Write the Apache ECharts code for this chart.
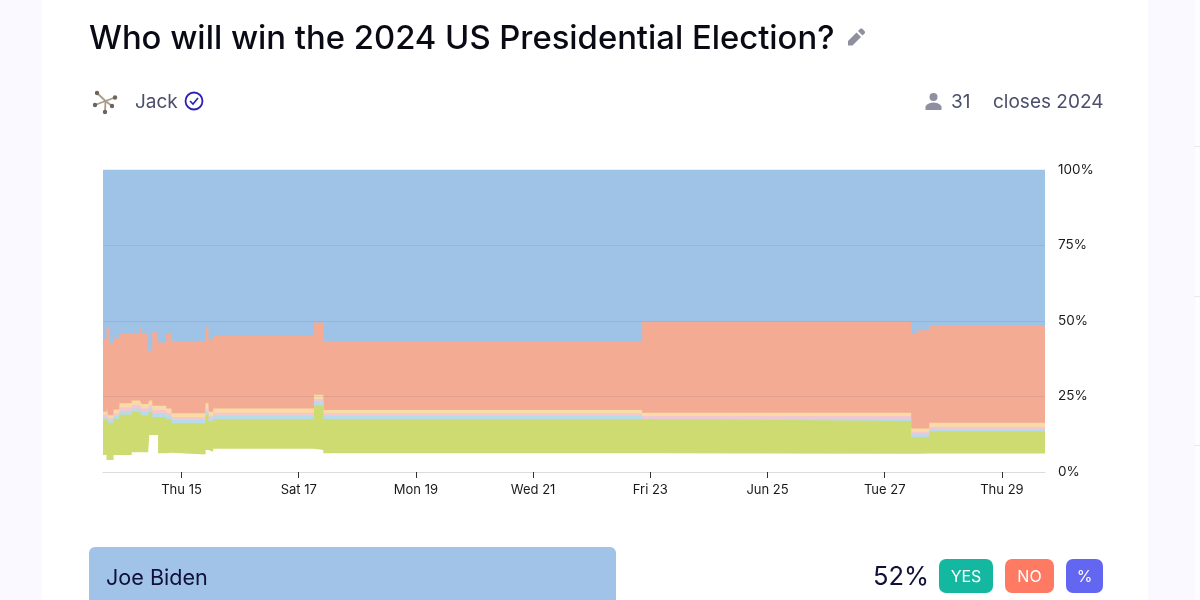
<!DOCTYPE html>
<html>
<head>
<meta charset="utf-8">
<style>html,body{margin:0;padding:0;background:#fff}#c{width:1200px;height:600px}</style>
<script src="https://cdn.jsdelivr.net/npm/echarts@6/dist/echarts.min.js"></script>
</head>
<body>
<div id="c"></div>
<script>
// x positions in days of June (steps start at each value)
const days = [13.66,13.72,13.75,13.78,13.84,13.94,14.15,14.29,14.32,14.43,14.45,14.50,14.60,14.74,14.83,15.41,15.46,15.54,17.26,17.42,22.86,27.45,27.55,27.76,29.68,29.735];
// Cumulative band tops, in percent
const blueTop   = [100,100,100,100,100,100,100,100,100,100,100,100,100,100,100,100,100,100,100,100,100,100,100,100,100,100];
const salmonTop = [43.6,47.5,47.5,42.6,44.2,45.8,45.8,48.6,45.6,40.1,40.1,46.2,42.8,45.6,43.3,48.0,43.6,45.0,49.4,43.3,49.6,45.8,46.9,48.4,48.0,48.0];
const yellowTop = [19.9,21.0,18.8,18.8,20.7,22.7,23.6,23.6,22.5,22.5,23.6,21.9,21.9,21.0,19.4,22.7,19.9,21.0,25.5,20.5,19.6,14.4,14.4,16.3,16.3,16.3];
const pinkTop   = [18.9,20.0,17.9,17.9,19.4,21.3,22.2,22.2,21.1,21.1,22.2,20.5,20.5,19.7,18.2,21.0,18.6,19.6,24.2,19.4,18.5,13.3,13.3,15.0,15.0,15.0];
const skyTop    = [18.1,19.2,17.1,17.1,18.5,20.2,21.0,21.0,20.0,20.0,21.0,19.5,19.5,18.7,17.2,20.0,17.7,18.6,23.2,18.5,17.6,12.5,12.5,14.2,14.2,14.2];
const greenTop  = [17.3,18.2,16.2,16.2,17.6,18.9,19.8,19.8,18.8,18.8,19.8,18.2,18.2,17.5,16.1,19.0,16.8,17.5,22.0,17.5,16.9,11.5,11.5,13.5,13.5,13.5];
const whiteTop  = [5.6,4.0,4.0,4.0,5.6,5.6,6.5,6.5,6.5,6.5,12.2,12.2,6.2,6.4,5.8,7.3,6.7,7.7,7.3,6.2,6.0,6.0,6.1,6.1,6.1,6.1];

const tickDays = [15,17,19,21,23,25,27,29];
const tickLabels = ['Thu 15','Sat 17','Mon 19','Wed 21','Fri 23','Jun 25','Tue 27','Thu 29'];

const titleText = 'Who will win the 2024 US Presidential Election?';
const creator = 'Jack';
const traders = '31';
const closes = 'closes 2024';
const answerName = 'Joe Biden';
const answerProb = '52%';

const F = 'Inter, "Noto Sans", sans-serif';

function band(name, tops, color, z) {
  return {
    name, type: 'line', step: 'end', showSymbol: false, silent: true, z,
    lineStyle: { width: 0 },
    areaStyle: { color, opacity: 1 },
    data: days.map((d, i) => [d, tops[i]])
  };
}
const series = [
  band('blue', blueTop, '#9fc3e7', 2),
  band('salmon', salmonTop, '#f4ab94', 3),
  band('yellow', yellowTop, '#f9dca5', 4),
  band('pink', pinkTop, '#f4c6cf', 5),
  band('sky', skyTop, '#b6dcea', 6),
  band('green', greenTop, '#cedb70', 7),
  band('white', whiteTop, '#ffffff', 8)
];

const t = (x, y, text, size, color, extra) => ({
  type: 'text', x, y, z: 10,
  style: Object.assign({ text, font: `${size}px ${F}`, fill: color, textVerticalAlign: 'middle' }, extra || {})
});
const btn = (x, w, color, text) => ([
  { type: 'rect', z: 5, shape: { x, y: 559, width: w, height: 34, r: 7 }, style: { fill: color } },
  t(x + w / 2, 577, text, 16, '#fff', { textAlign: 'center' })
]);
const avatarArms = [[105.5,101,97,93],[105.5,101,115,97.5],[105.5,101,95,105],[105.5,101,105,112],[105.5,101,112,106]];

const graphic = [
  // page panels
  { type: 'rect', z: -10, shape: { x: 0, y: 0, width: 1200, height: 600 }, style: { fill: '#f9f9ff' } },
  { type: 'rect', z: -9, shape: { x: 42, y: 0, width: 1106, height: 600 }, style: { fill: '#ffffff' } },
  { type: 'rect', z: -9, shape: { x: 1195, y: 0, width: 5, height: 600 }, style: { fill: '#fdfdff' } },
  { type: 'rect', z: -8, shape: { x: 1194, y: 146, width: 6, height: 1 }, style: { fill: '#e8e8ee' } },
  { type: 'rect', z: -8, shape: { x: 1194, y: 296, width: 6, height: 1 }, style: { fill: '#e8e8ee' } },
  { type: 'rect', z: -8, shape: { x: 1194, y: 445, width: 6, height: 1 }, style: { fill: '#e8e8ee' } },
  // header
  t(89, 39.5, titleText, 32.8, '#0a0a14', { font: `500 32.8px ${F}` }),
  { type: 'polygon', z: 10, shape: { points: [[848,41],[848,45.5],[852.5,45.5],[861,37],[856.5,32.5]] }, style: { fill: '#8f8f9e' } },
  { type: 'polygon', z: 10, shape: { points: [[858,31],[862.5,35.5],[865,33],[865,31.5],[862,28.5],[860.5,28.5]] }, style: { fill: '#8f8f9e' } },
  t(135, 102, creator, 19, '#4b4f6b'),
  t(951, 102, traders, 19, '#4b4f6b'),
  t(993, 102, closes, 19, '#4b4f6b'),
  ...avatarArms.map(a => ({ type: 'line', z: 10, shape: { x1: a[0], y1: a[1], x2: a[2], y2: a[3] }, style: { stroke: '#a89c8c', lineWidth: 1.8 } })),
  ...avatarArms.map(a => ({ type: 'circle', z: 10, shape: { cx: a[2], cy: a[3], r: 2.2 }, style: { fill: '#6e6459' } })),
  { type: 'circle', z: 10, shape: { cx: 194, cy: 101, r: 8.5 }, style: { fill: 'none', stroke: '#2c20b8', lineWidth: 1.8 } },
  { type: 'polyline', z: 10, shape: { points: [[190,101],[193,104],[198,98]] }, style: { fill: 'none', stroke: '#2c20b8', lineWidth: 1.6 } },
  { type: 'circle', z: 10, shape: { cx: 933.5, cy: 97, r: 4 }, style: { fill: '#8f8fa3' } },
  { type: 'polygon', z: 10, shape: { points: [[925.5,110],[925.5,106.5],[927,104.5],[930,103],[933.5,102.5],[937,103],[940,104.5],[941.5,106.5],[941.5,110]] }, style: { fill: '#8f8fa3' } },
  // answer row
  { type: 'rect', z: 5, shape: { x: 89, y: 547, width: 527, height: 70, r: [6, 6, 0, 0] }, style: { fill: '#a0c3e7' } },
  t(106, 578.5, answerName, 21.6, '#10103a'),
  t(873, 577.5, answerProb, 25.5, '#10103a'),
  ...btn(939, 54, '#14b8a0', 'YES'),
  ...btn(1005, 49, '#ff7a63', 'NO'),
  ...btn(1066, 37, '#6366f1', '%')
];

const chart = echarts.init(document.getElementById('c'), null, { renderer: 'canvas' });
chart.setOption({
  animation: false,
  backgroundColor: '#fff',
  grid: { left: 103, right: 155, top: 169.5, bottom: 128, containLabel: false },
  xAxis: {
    type: 'value', min: 13.66, max: 29.735, z: 9,
    splitLine: { show: false },
    axisLine: { show: true, onZero: false, lineStyle: { color: '#dcdcdc', width: 1 } },
    axisTick: { show: true, customValues: tickDays, length: 6, lineStyle: { color: '#333', width: 1 } },
    axisLabel: {
      show: true, customValues: tickDays, margin: 12, fontFamily: F, fontSize: 13, color: '#1a1a1a',
      hideOverlap: false,
      formatter: v => tickLabels[tickDays.indexOf(v)]
    }
  },
  yAxis: {
    type: 'value', position: 'right', min: 0, max: 100, interval: 25, z: 9,
    axisLine: { show: false }, axisTick: { show: false },
    axisLabel: { margin: 13, fontFamily: F, fontSize: 13.5, color: '#1a1a1a', formatter: v => v + '%' },
    splitLine: { show: true, showMinLine: false, showMaxLine: false, lineStyle: { color: 'rgba(90,90,120,0.13)', width: 1 } }
  },
  graphic: { elements: graphic },
  series
});
</script>
</body>
</html>
